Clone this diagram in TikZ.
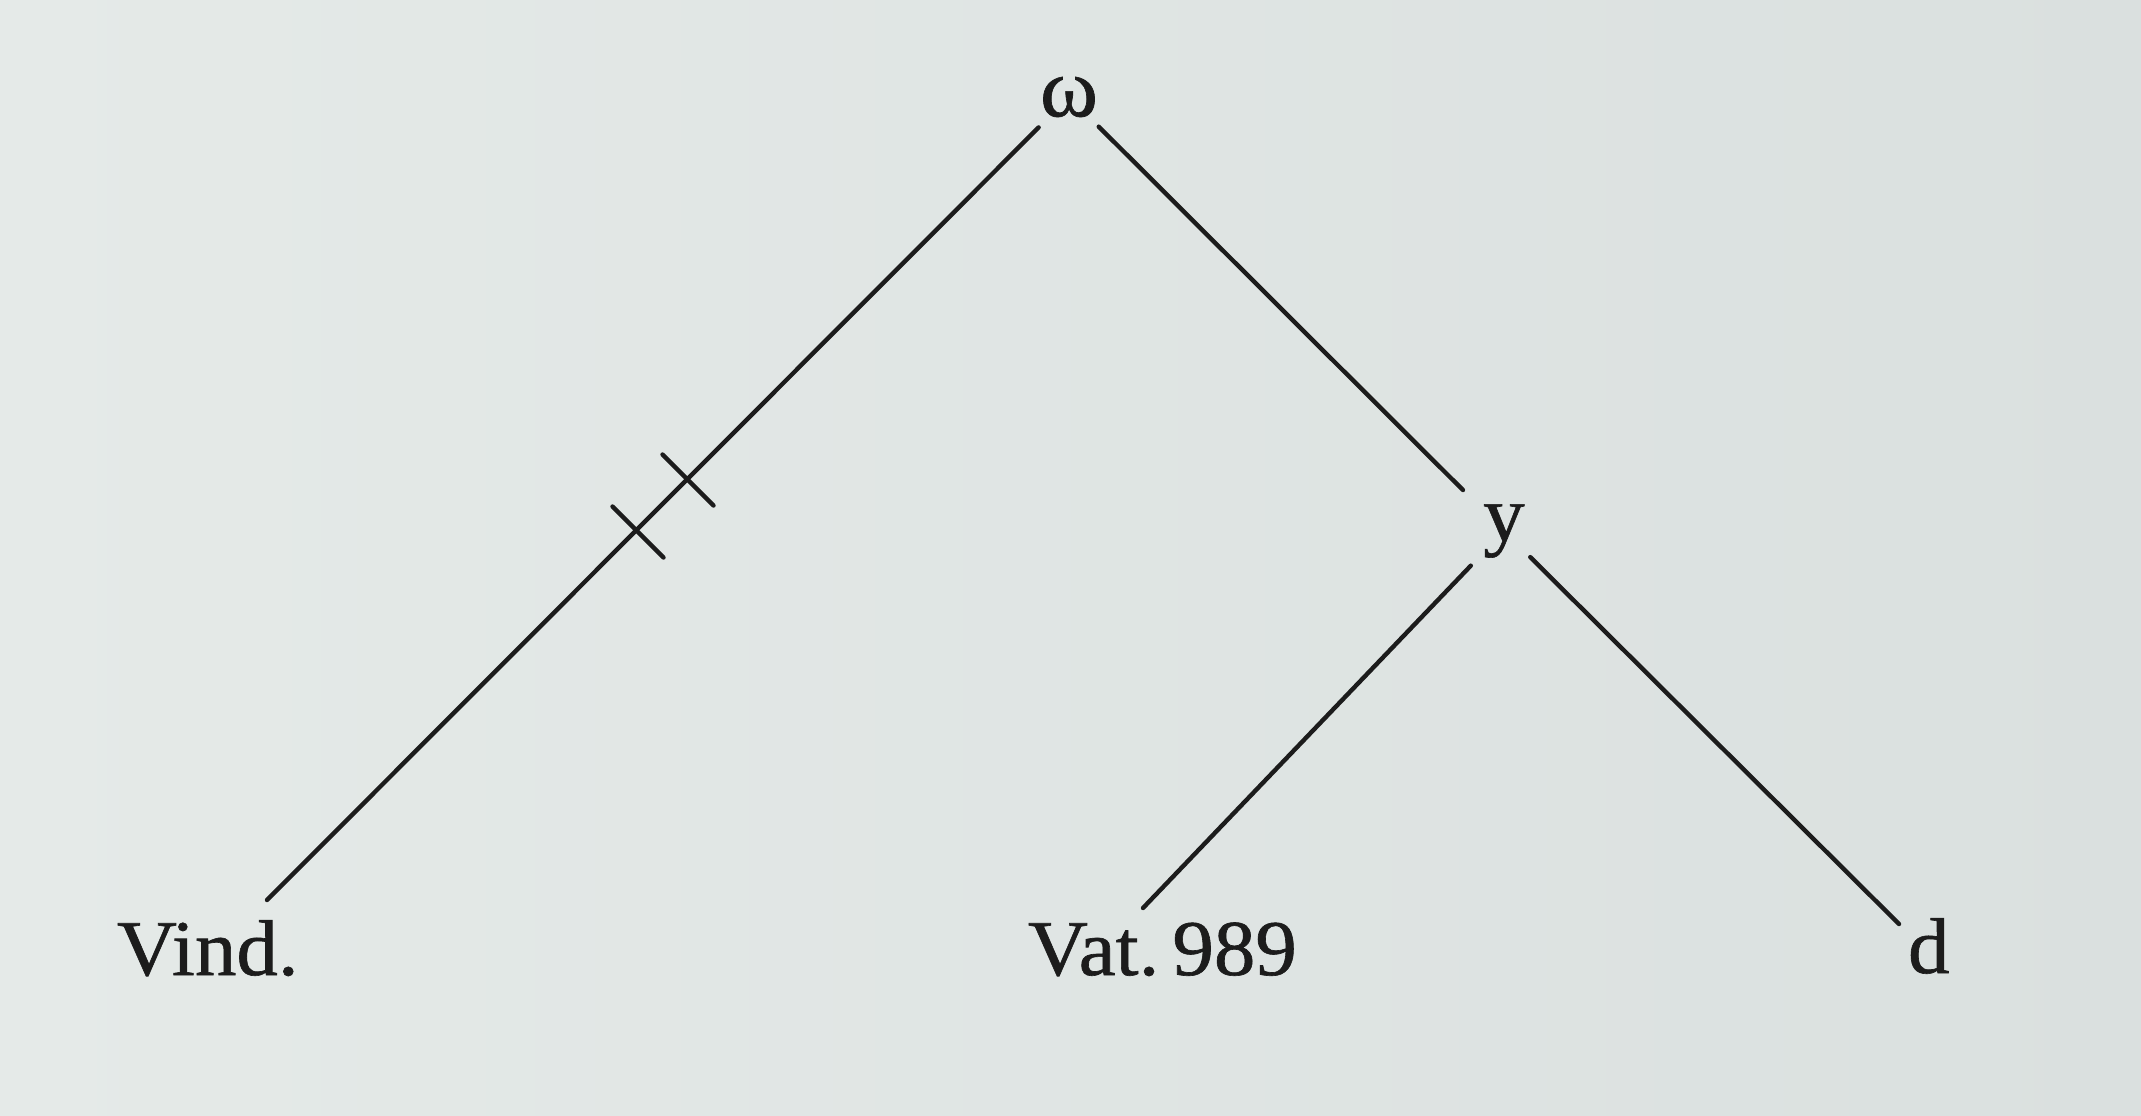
\documentclass[tikz,border=0pt]{standalone}
\usepackage{fontspec}
\setmainfont[FakeBold=0.8,FakeStretch=1.05]{Liberation Serif}
\usetikzlibrary{calc}
\definecolor{paperL}{RGB}{229,234,232}
\definecolor{paperR}{RGB}{218,224,223}
\definecolor{ink}{RGB}{28,28,28}
\begin{document}
\begin{tikzpicture}[x=0.5pt,y=-0.5pt,
  stemline/.style={draw=ink,line width=2.2pt,line cap=round},
  lbl/.style={inner sep=0pt,outer sep=0pt,text=ink,font=\fontsize{39.5}{46}\selectfont},
  tickmark/.style={draw=ink,line width=2.2pt,line cap=round}]
\useasboundingbox (0,0) rectangle (2141,1115);
\shade[left color=paperL,right color=paperR] (0,0) rectangle (2141,1115);
% nodes
\node[lbl,anchor=center,font=\fontsize{42}{48}\selectfont] (omega) at (1069,97) {ω};
\node[lbl,anchor=center] (y) at (1504,531) {y};
\node[lbl,anchor=base west] (vind) at (117,975) {Vind.};
\node[lbl,anchor=base west] (vat) at (1028,975) {Vat.\,989};
\node[lbl,anchor=base west] (d) at (1908,973) {d};
% free ends of the connectors
\coordinate (vindend) at (267,900);
\coordinate (vatend) at (1143,908);
\coordinate (dend) at (1899,924);
% connectors
\draw[stemline,shorten <=21.5pt] (omega.center) -- (vindend);
\draw[stemline,shorten <=21pt,shorten >=29pt] (omega.center) -- (y.center);
\draw[stemline,shorten <=24pt] (y.center) -- (vatend);
\draw[stemline,shorten <=18.5pt] (y.center) -- (dend);
% cross ticks on the left branch
\coordinate (t1) at (688,480);
\coordinate (t2) at (638,532);
\draw[tickmark] ($(t1)+(-25.5,-25.5)$) -- ($(t1)+(25.5,25.5)$);
\draw[tickmark] ($(t2)+(-25.5,-25.5)$) -- ($(t2)+(25.5,25.5)$);
\end{tikzpicture}
\end{document}
